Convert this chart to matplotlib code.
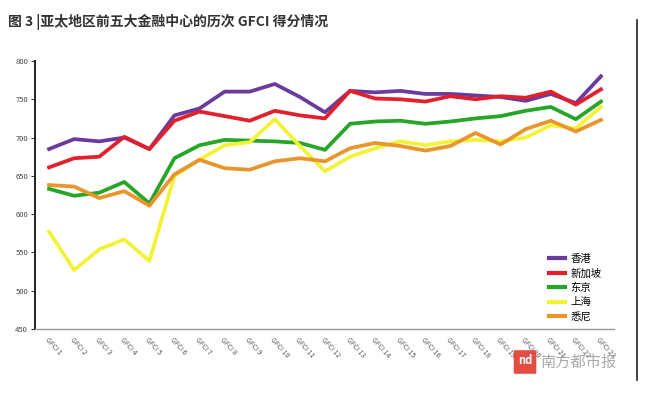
import matplotlib
matplotlib.use("Agg")
import matplotlib.pyplot as plt
from matplotlib.patches import FancyBboxPatch

plt.rcParams['font.family'] = ['Noto Sans CJK SC', 'DejaVu Sans']

categories = [f"GFCI {i}" for i in range(1, 24)]
hong_kong = [685, 698, 695, 700, 685, 729, 738, 760, 760, 770, 753, 733,
             761, 759, 761, 757, 757, 755, 753, 748, 757, 745, 780]
singapore = [661, 673, 675, 701, 685, 722, 734, 728, 722, 735, 729, 725,
             761, 751, 750, 747, 754, 750, 754, 752, 760, 743, 763]
tokyo = [633, 624, 628, 642, 614, 673, 690, 697, 696, 695, 693, 684,
         718, 721, 722, 718, 721, 725, 728, 735, 740, 724, 747]
shanghai = [577, 527, 554, 567, 539, 650, 671, 690, 694, 724, 689, 656,
            675, 686, 695, 690, 695, 697, 695, 700, 716, 712, 740]
sydney = [638, 636, 621, 630, 611, 652, 671, 660, 658, 669, 673, 669,
          686, 693, 689, 683, 689, 706, 691, 711, 722, 708, 723]
series_names = ["香港", "新加坡", "东京", "上海", "悉尼"]
yticks = [450, 500, 550, 600, 650, 700, 750, 800]

colors = ["#6b3a9e", "#e2202c", "#27a527", "#f2f238", "#e8952c"]

fig = plt.figure(figsize=(6.5, 3.98), dpi=100)
ax = fig.add_axes([35/650, 69/398, (614-35)/650, 268/398])

x = list(range(len(categories)))
for vals, name, c in zip([hong_kong, singapore, tokyo, shanghai, sydney], series_names, colors):
    ax.plot(x, vals, color=c, lw=2.7, label=name, solid_joinstyle='round')

ax.set_xlim(-0.56, 22.52)
ax.set_ylim(450, 800)
ax.set_yticks(yticks)
ax.set_yticklabels([str(v) for v in yticks], fontsize=5.5, color="#444444")
ax.set_xticks(x)
ax.set_xticklabels(categories, rotation=-48, ha='left', va='top', fontsize=5,
                   color="#555555", rotation_mode='anchor')
ax.tick_params(axis='y', length=3, width=0.8, color="#333333", pad=2)
ax.tick_params(axis='x', length=0, pad=5)
for s in ['top', 'right']:
    ax.spines[s].set_visible(False)
ax.spines['left'].set_color("#222222")
ax.spines['left'].set_linewidth(1.4)
ax.spines['bottom'].set_color("#999999")
ax.spines['bottom'].set_linewidth(1.0)

leg = ax.legend(loc='lower right', bbox_to_anchor=(0.995, -0.008), frameon=False,
                fontsize=7.5, handlelength=1.6, handletextpad=0.5, labelspacing=0.42)
for line in leg.get_lines():
    line.set_linewidth(3)

fig.text(8/650, 1 - 22/398, "图 3 |亚太地区前五大金融中心的历次 GFCI 得分情况",
         fontsize=10, fontweight='bold', color="#333333", va='center', ha='left')

# frame line on the right
fig.add_artist(plt.Line2D([637/650, 637/650], [1 - 20/398, 1 - 380/398],
                          transform=fig.transFigure, color="#222222", lw=1.2))

# watermark
fig.add_artist(FancyBboxPatch((515/650, 1 - 373/398), 20/650, 22/398,
                              boxstyle="round,pad=0.002", transform=fig.transFigure,
                              facecolor="#e03a30", edgecolor="none", alpha=0.9))
fig.text(525/650, 1 - 360/398, "nd", fontsize=8, color="white", ha='center', va='center',
         fontweight='bold')
fig.text(540/650, 1 - 362/398, "南方都市报", fontsize=11, color="#aaaaaa", va='center', ha='left')

fig.savefig("out.png", dpi=100, facecolor="white")
